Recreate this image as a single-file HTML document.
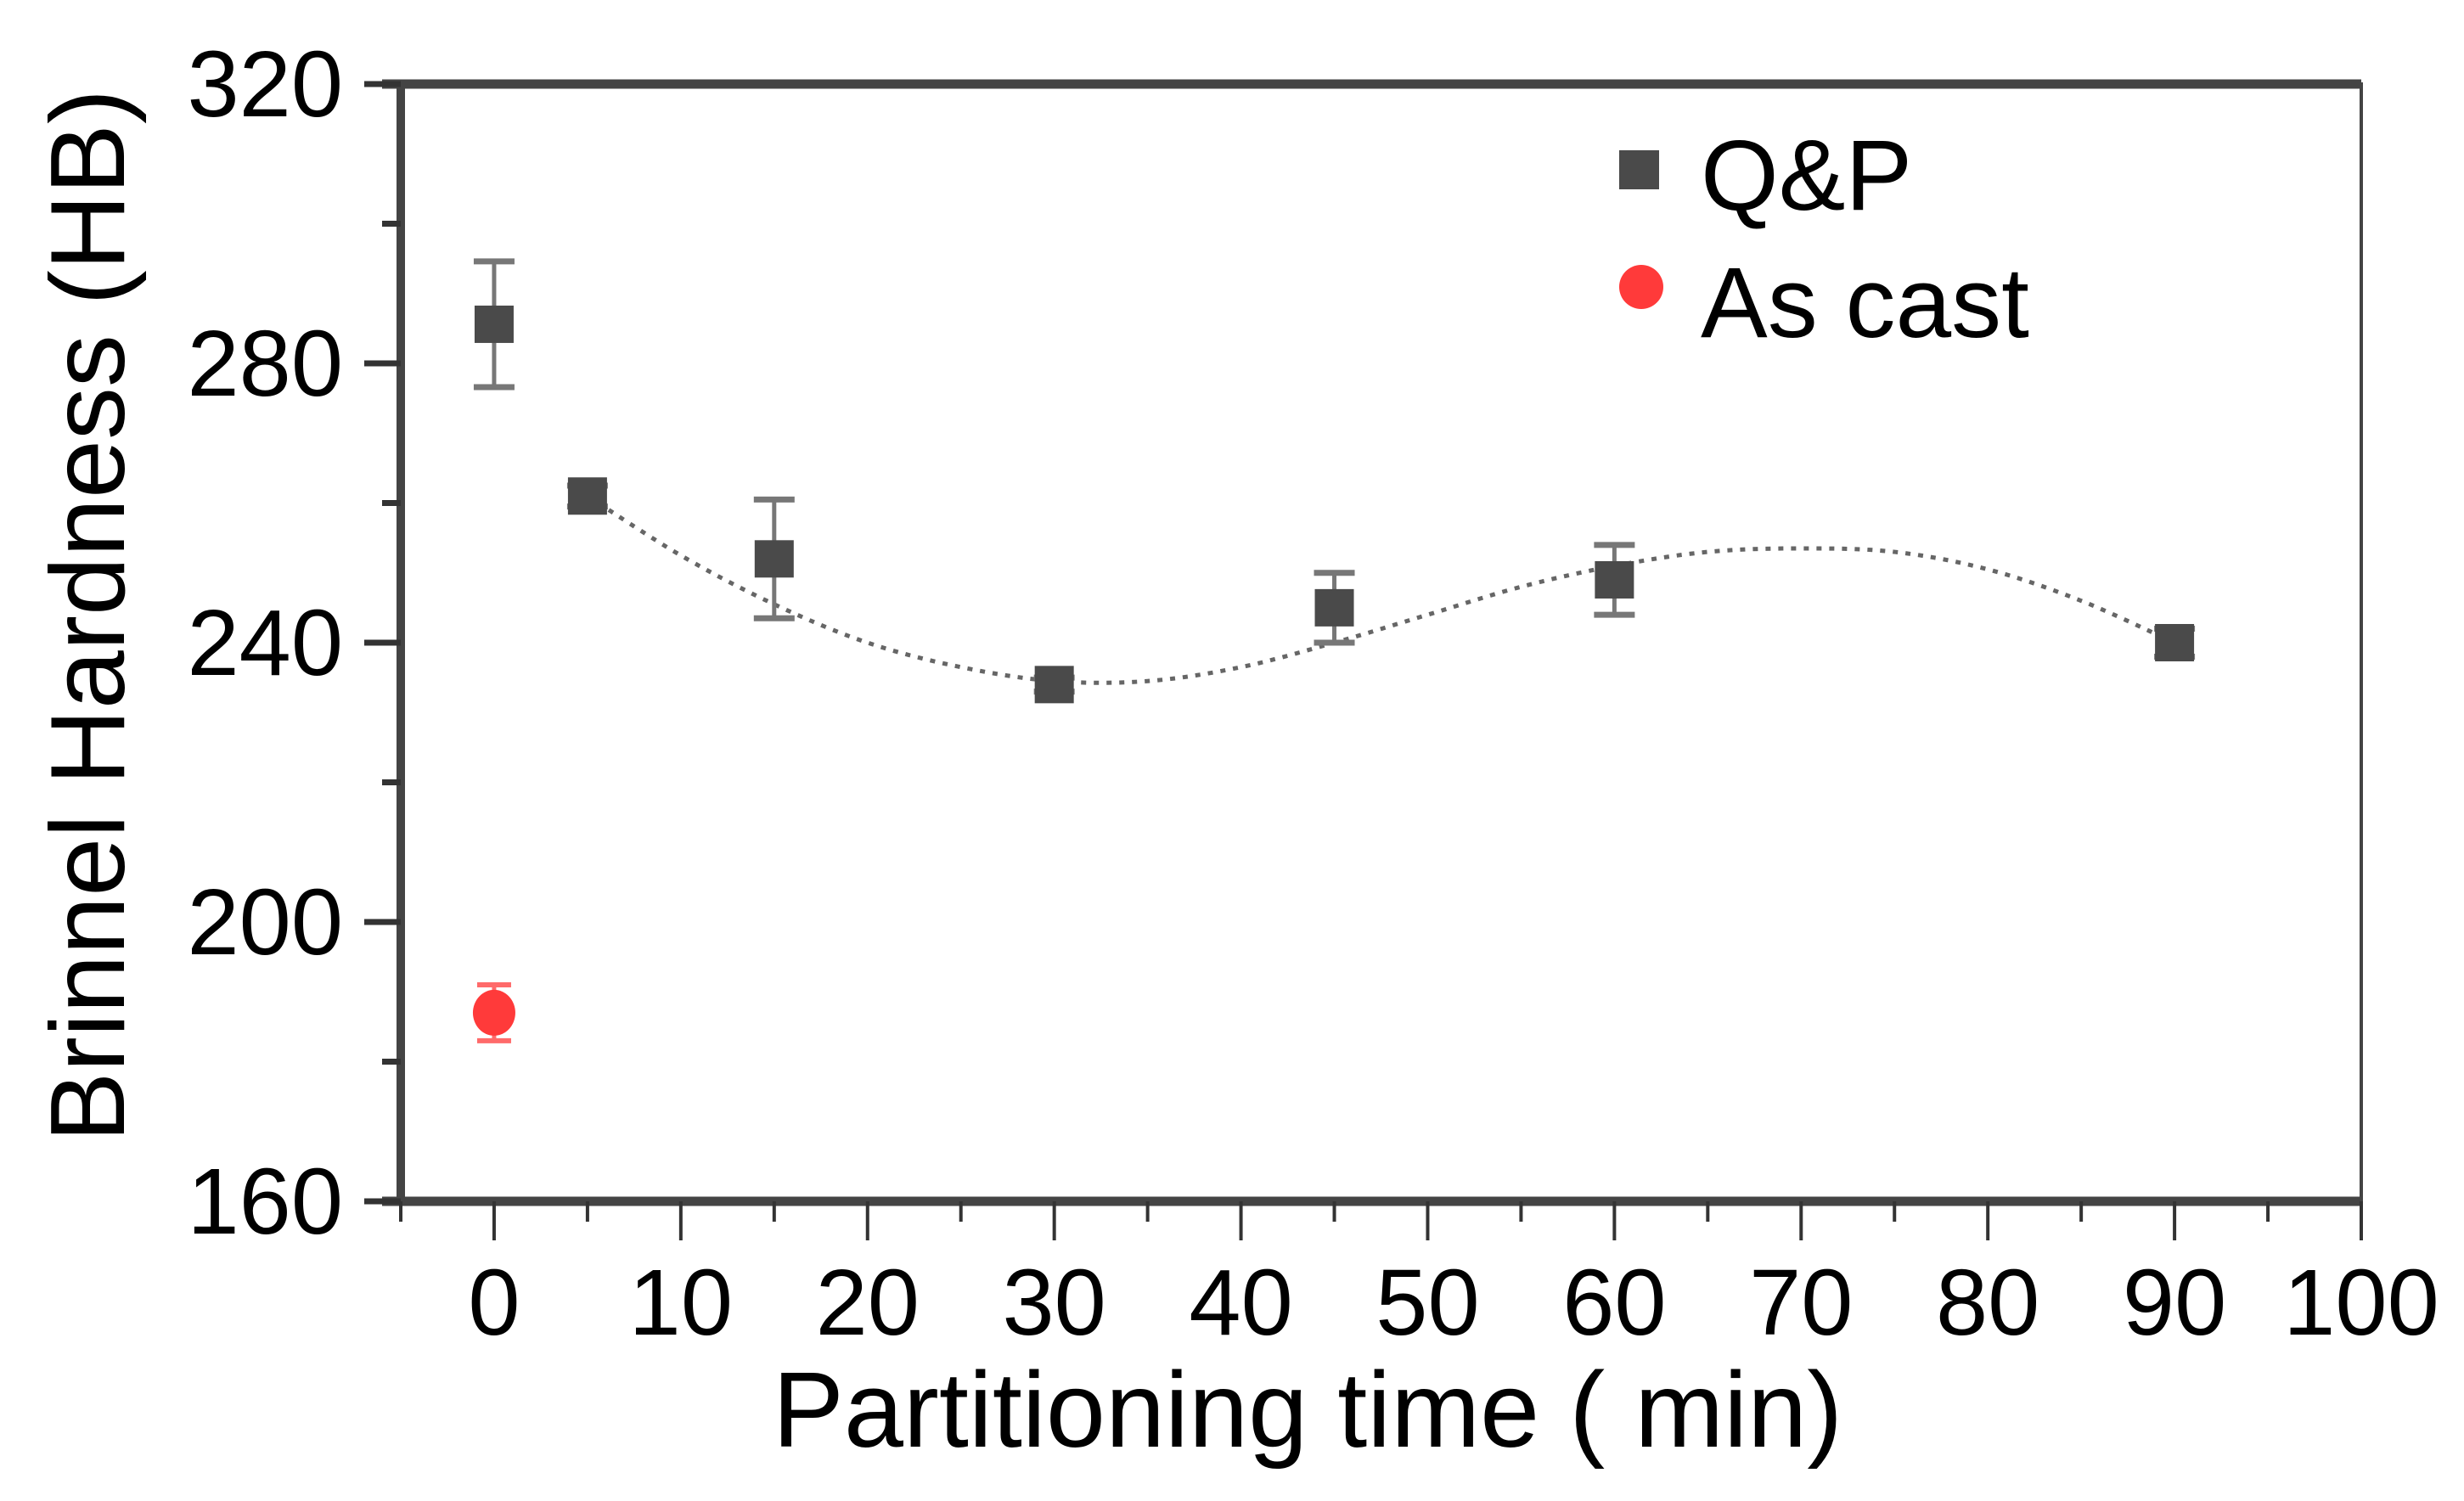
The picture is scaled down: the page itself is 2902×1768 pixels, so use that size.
<!DOCTYPE html>
<html><head><meta charset="utf-8"><style>
html,body{margin:0;padding:0;background:#fff;}
svg{display:block;font-family:"Liberation Sans",Arial,sans-serif;}
</style></head><body>
<svg id="chart" width="2902" height="1768" viewBox="0 0 2902 1768">
<g id="axes"></g>
<g id="fit"></g>
<g id="marks"></g>
<text x="1540" y="1704" font-size="126" text-anchor="middle" fill="#000">Partitioning time ( min)</text>
<text transform="translate(146,725) rotate(-90)" font-size="124" text-anchor="middle" fill="#000">Brinnel Hardness (HB)</text>
<g>
  <rect x="1907" y="177" width="47" height="46" fill="#4a4a4a"/>
  <text x="2003" y="247" font-size="118" fill="#000">Q&amp;P</text>
  <circle cx="1933" cy="338" r="26" fill="#ff3a3a"/>
  <text x="2003" y="397" font-size="118" fill="#000">As cast</text>
</g>
</svg>
<script>
const qpTimes = [0, 5, 15, 30, 45, 60, 90];
const qpValues = [285.6, 261, 252, 234, 245, 249, 240];
const qpErrors = [9, 1.5, 8.5, 1, 5, 5, 2];
const castTimes = [0];
const castValues = [187];
const castErrors = [4];
const fitTimes = [5,10,15,20,25,30,35,40,45,50,55,60,65,70,75,80,85,90];
const fitValues = [261,252.5,245.5,240,236.5,234.5,234.5,236.5,240,244,248,251,253,253.5,253,250.5,246,240];
const xTicks = [0,10,20,30,40,50,60,70,80,90,100];
const yTicks = [160,200,240,280,320];

const NS = "http://www.w3.org/2000/svg";
const X0 = 472, X1 = 2781, Y0 = 99, Y1 = 1415;
const xMin = -5, xMax = 100, yMin = 160, yMax = 320;
function sx(v){ return X0 + (v - xMin) / (xMax - xMin) * (X1 - X0); }
function sy(v){ return Y1 - (v - yMin) / (yMax - yMin) * (Y1 - Y0); }
function mk(tag, attrs, parent){
  const e = document.createElementNS(NS, tag);
  for (const k in attrs) e.setAttribute(k, attrs[k]);
  parent.appendChild(e);
  return e;
}
const axes = document.getElementById('axes');
const fit = document.getElementById('fit');
const marks = document.getElementById('marks');

let fr = mk('rect', {x:X0, y:Y0, width:X1-X0, height:Y1-Y0, fill:'none', stroke:'#444', 'stroke-width':4}, axes);


let la = mk('line', {x1:X0, y1:Y0-5, x2:X0, y2:Y1+5, stroke:'#444', 'stroke-width':10}, axes);


let ta = mk('line', {x1:X0-22, y1:Y0, x2:X1, y2:Y0, stroke:'#444', 'stroke-width':11}, axes);


let ba = mk('line', {x1:X0-22, y1:Y1, x2:X1, y2:Y1, stroke:'#444', 'stroke-width':11}, axes);



for (let i = 0; i < xTicks.length; i++) {
  const v = xTicks[i];
  const t = mk('line', {x1:sx(v), y1:Y1, x2:sx(v), y2:Y1+46, stroke:'#333', 'stroke-width':4}, axes);
  
  
  const m = mk('line', {x1:sx(v-5), y1:Y1, x2:sx(v-5), y2:Y1+24, stroke:'#333', 'stroke-width':4}, axes);
  
  
  const l = mk('text', {x:sx(v), y:1572, 'font-size':110, 'text-anchor':'middle', fill:'#000'}, axes);
  l.textContent = v;
  
  
}
for (let i = 0; i < yTicks.length; i++) {
  const v = yTicks[i];
  const t = mk('line', {x1:X0-43, y1:sy(v), x2:X0, y2:sy(v), stroke:'#333', 'stroke-width':7}, axes);
  
  
  if (v < yMax) {
    const m = mk('line', {x1:X0-22, y1:sy(v+20), x2:X0, y2:sy(v+20), stroke:'#333', 'stroke-width':7}, axes);
    
    
  }
  const l = mk('text', {x:404, y:sy(v)+38, 'font-size':110, 'text-anchor':'end', fill:'#000'}, axes);
  l.textContent = v;
  
  
}

let d = '';
for (let i = 0; i < fitTimes.length; i++) {
  const px = sx(fitTimes[i]), py = sy(fitValues[i]);
  if (i === 0) d += 'M' + px + ',' + py;
  else {
    const p0x = sx(fitTimes[Math.max(i-2,0)]), p0y = sy(fitValues[Math.max(i-2,0)]);
    const p1x = sx(fitTimes[i-1]), p1y = sy(fitValues[i-1]);
    const p3x = sx(fitTimes[Math.min(i+1,fitTimes.length-1)]), p3y = sy(fitValues[Math.min(i+1,fitTimes.length-1)]);
    const c1x = p1x + (px - p0x)/6, c1y = p1y + (py - p0y)/6;
    const c2x = px - (p3x - p1x)/6, c2y = py - (p3y - p1y)/6;
    d += ' C' + c1x + ',' + c1y + ' ' + c2x + ',' + c2y + ' ' + px + ',' + py;
  }
}
const fp = mk('path', {d:d, fill:'none', stroke:'#666', 'stroke-width':5, 'stroke-dasharray':'6 9'}, fit);



for (let i = 0; i < qpTimes.length; i++) {
  const cx = sx(qpTimes[i]), cy = sy(qpValues[i]);
  const top = sy(qpValues[i] + qpErrors[i]), bot = sy(qpValues[i] - qpErrors[i]);
  const g = mk('g', {}, marks);
  
  
  mk('line', {x1:cx, y1:top, x2:cx, y2:bot, stroke:'#777', 'stroke-width':5}, g);
  mk('line', {x1:cx-24, y1:top, x2:cx+24, y2:top, stroke:'#777', 'stroke-width':7}, g);
  mk('line', {x1:cx-24, y1:bot, x2:cx+24, y2:bot, stroke:'#777', 'stroke-width':7}, g);
  mk('rect', {x:cx-23, y:cy-22, width:46, height:44, fill:'#4a4a4a'}, g);
}
for (let i = 0; i < castTimes.length; i++) {
  const cx = sx(castTimes[i]), cy = sy(castValues[i]);
  const top = sy(castValues[i] + castErrors[i]), bot = sy(castValues[i] - castErrors[i]);
  const g = mk('g', {}, marks);
  
  
  mk('line', {x1:cx, y1:top, x2:cx, y2:bot, stroke:'#ff6a6a', 'stroke-width':5}, g);
  mk('line', {x1:cx-20, y1:top, x2:cx+20, y2:top, stroke:'#ff6a6a', 'stroke-width':6}, g);
  mk('line', {x1:cx-20, y1:bot, x2:cx+20, y2:bot, stroke:'#ff6a6a', 'stroke-width':6}, g);
  mk('ellipse', {cx:cx, cy:cy, rx:25, ry:27, fill:'#ff3a3a'}, g);
}
</script>
</body></html>
